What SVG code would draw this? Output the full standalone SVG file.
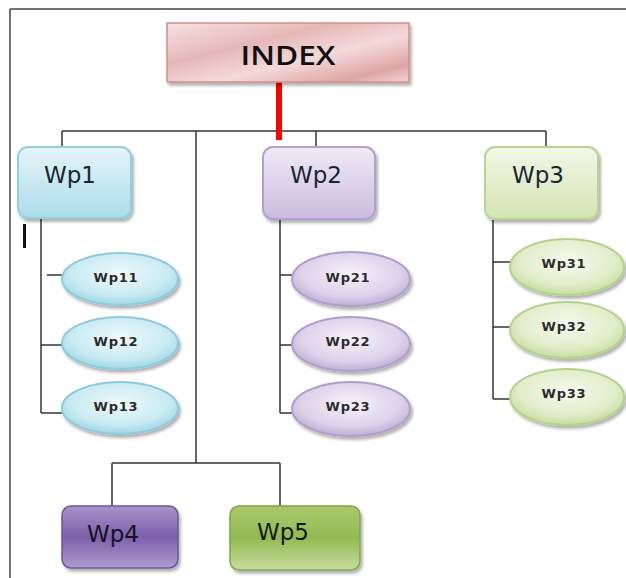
<svg xmlns="http://www.w3.org/2000/svg" width="626" height="578" viewBox="0 0 626 578">
<defs>
<filter id="sh" x="-10%" y="-10%" width="125%" height="130%">
<feDropShadow dx="2" dy="3" stdDeviation="1.5" flood-color="#000" flood-opacity="0.3"/>
</filter>
<linearGradient id="gIdx" x1="0" y1="0" x2="1" y2="1">
<stop offset="0" stop-color="#f6e2e2"/>
<stop offset="0.35" stop-color="#e6b8b8"/>
<stop offset="0.6" stop-color="#f4dada"/>
<stop offset="0.85" stop-color="#dea4a4"/>
<stop offset="1" stop-color="#f2d6d6"/>
</linearGradient>
<linearGradient id="gBlue" x1="0" y1="0" x2="0" y2="1">
<stop offset="0" stop-color="#e4f5f9"/>
<stop offset="1" stop-color="#acdcea"/>
</linearGradient>
<linearGradient id="gPur" x1="0" y1="0" x2="0" y2="1">
<stop offset="0" stop-color="#f0eaf6"/>
<stop offset="1" stop-color="#cbbcde"/>
</linearGradient>
<linearGradient id="gGrn" x1="0" y1="0" x2="0" y2="1">
<stop offset="0" stop-color="#f2f7e8"/>
<stop offset="1" stop-color="#d2e4b2"/>
</linearGradient>
<linearGradient id="gPur4" x1="0" y1="0" x2="0" y2="1">
<stop offset="0" stop-color="#a893cb"/>
<stop offset="0.5" stop-color="#7c61a9"/>
<stop offset="1" stop-color="#ae9bcf"/>
</linearGradient>
<linearGradient id="gGrn5" x1="0" y1="0" x2="0" y2="1">
<stop offset="0" stop-color="#a9c96c"/>
<stop offset="0.5" stop-color="#92ba52"/>
<stop offset="1" stop-color="#c7dc9f"/>
</linearGradient>
<radialGradient id="eBlue" cx="0.5" cy="0.4" r="0.6">
<stop offset="0" stop-color="#eef9fb"/>
<stop offset="0.7" stop-color="#c9eaf2"/>
<stop offset="1" stop-color="#9fd6e6"/>
</radialGradient>
<radialGradient id="ePur" cx="0.5" cy="0.4" r="0.6">
<stop offset="0" stop-color="#f6f2f9"/>
<stop offset="0.7" stop-color="#ddd2ea"/>
<stop offset="1" stop-color="#c0aed8"/>
</radialGradient>
<radialGradient id="eGrn" cx="0.5" cy="0.4" r="0.6">
<stop offset="0" stop-color="#f6faee"/>
<stop offset="0.7" stop-color="#e0edc9"/>
<stop offset="1" stop-color="#c6dd9e"/>
</radialGradient>
</defs>
<style>
.conn line{stroke:#333;stroke-width:1.5;fill:none}
.big{font-family:"DejaVu Sans",sans-serif;font-size:23px;fill:#1b2630;text-anchor:middle}
.small{font-family:"DejaVu Sans",sans-serif;font-size:13px;font-weight:bold;fill:#2b2b2b;text-anchor:middle;letter-spacing:0.8px}
.eb{fill:url(#eBlue);stroke:#8ccbdf;stroke-width:2}
.ep{fill:url(#ePur);stroke:#b09dcc;stroke-width:2}
.eg{fill:url(#eGrn);stroke:#b3d28a;stroke-width:2}
</style>
<rect width="626" height="578" fill="#ffffff"/>
<g id="frame" stroke="#444" stroke-width="1.5">
<line x1="10" y1="9" x2="626" y2="9"/>
<line x1="10" y1="9" x2="10" y2="578"/>
</g>
<g class="conn" id="connectors">
<line x1="62" y1="131" x2="546" y2="131"/>
<line x1="62" y1="131" x2="62" y2="148"/>
<line x1="196" y1="131" x2="196" y2="463"/>
<line x1="316" y1="131" x2="316" y2="148"/>
<line x1="546" y1="131" x2="546" y2="148"/>
<line x1="41" y1="218" x2="41" y2="413"/>
<line x1="47" y1="275" x2="62" y2="275"/>
<line x1="41" y1="345" x2="62" y2="345"/>
<line x1="41" y1="413" x2="62" y2="413"/>
<line x1="280" y1="219" x2="280" y2="413"/>
<line x1="280" y1="275" x2="293" y2="275"/>
<line x1="280" y1="345" x2="293" y2="345"/>
<line x1="280" y1="413" x2="293" y2="413"/>
<line x1="493" y1="220" x2="493" y2="399"/>
<line x1="493" y1="262" x2="510" y2="262"/>
<line x1="493" y1="327" x2="510" y2="327"/>
<line x1="493" y1="399" x2="510" y2="399"/>
<line x1="112" y1="463" x2="280" y2="463"/>
<line x1="112" y1="463" x2="112" y2="507"/>
<line x1="280" y1="463" x2="280" y2="507"/>
<line x1="279" y1="82" x2="279" y2="140" style="stroke:#ff0000;stroke-width:6"/>
</g>
<g id="index">
<rect x="167" y="23" width="242" height="59" fill="url(#gIdx)" stroke="#d08e8e" stroke-width="1.5" filter="url(#sh)"/>
<text x="288" y="65" font-family="'Open Sans','DejaVu Sans',sans-serif" font-size="27" font-weight="600" fill="#111" text-anchor="middle" textLength="95" lengthAdjust="spacingAndGlyphs">INDEX</text>
</g>
<g id="wp1">
<rect x="18" y="147" width="113" height="71" rx="10" fill="url(#gBlue)" stroke="#92cfe0" stroke-width="2" filter="url(#sh)"/>
<text x="70" y="183" class="big">Wp1</text>
</g>
<g id="wp2">
<rect x="263" y="147" width="112" height="72" rx="10" fill="url(#gPur)" stroke="#b3a0cf" stroke-width="2" filter="url(#sh)"/>
<text x="316" y="183" class="big">Wp2</text>
</g>
<g id="wp3">
<rect x="485" y="147" width="113" height="72" rx="10" fill="url(#gGrn)" stroke="#b8d58e" stroke-width="2" filter="url(#sh)"/>
<text x="538" y="183" class="big">Wp3</text>
</g>
<g id="wp11"><ellipse cx="120" cy="279" rx="58" ry="26" class="eb" filter="url(#sh)"/><text x="116" y="282" class="small">Wp11</text></g>
<g id="wp12"><ellipse cx="120" cy="343" rx="58" ry="26" class="eb" filter="url(#sh)"/><text x="116" y="346" class="small">Wp12</text></g>
<g id="wp13"><ellipse cx="120" cy="408" rx="58" ry="26" class="eb" filter="url(#sh)"/><text x="116" y="411" class="small">Wp13</text></g>
<g id="wp21"><ellipse cx="351" cy="279" rx="59" ry="27" class="ep" filter="url(#sh)"/><text x="348" y="282" class="small">Wp21</text></g>
<g id="wp22"><ellipse cx="351" cy="344" rx="59" ry="27" class="ep" filter="url(#sh)"/><text x="348" y="346" class="small">Wp22</text></g>
<g id="wp23"><ellipse cx="351" cy="409" rx="59" ry="27" class="ep" filter="url(#sh)"/><text x="348" y="411" class="small">Wp23</text></g>
<g id="wp31"><ellipse cx="567" cy="267" rx="57" ry="28" class="eg" filter="url(#sh)"/><text x="564" y="268" class="small">Wp31</text></g>
<g id="wp32"><ellipse cx="567" cy="330" rx="57" ry="28" class="eg" filter="url(#sh)"/><text x="564" y="331" class="small">Wp32</text></g>
<g id="wp33"><ellipse cx="567" cy="397" rx="57" ry="28" class="eg" filter="url(#sh)"/><text x="564" y="398" class="small">Wp33</text></g>
<g id="wp4">
<rect x="62" y="506" width="116" height="62" rx="9" fill="url(#gPur4)" stroke="#6d5597" stroke-width="1.5" filter="url(#sh)"/>
<text x="113" y="542" class="big" style="fill:#16121e">Wp4</text>
</g>
<g id="wp5">
<rect x="230" y="506" width="130" height="64" rx="9" fill="url(#gGrn5)" stroke="#7fa845" stroke-width="1.5" filter="url(#sh)"/>
<text x="283" y="540" class="big" style="fill:#141a0e">Wp5</text>
</g>
<rect id="mark" x="23" y="224" width="3" height="24" fill="#111"/>
</svg>
